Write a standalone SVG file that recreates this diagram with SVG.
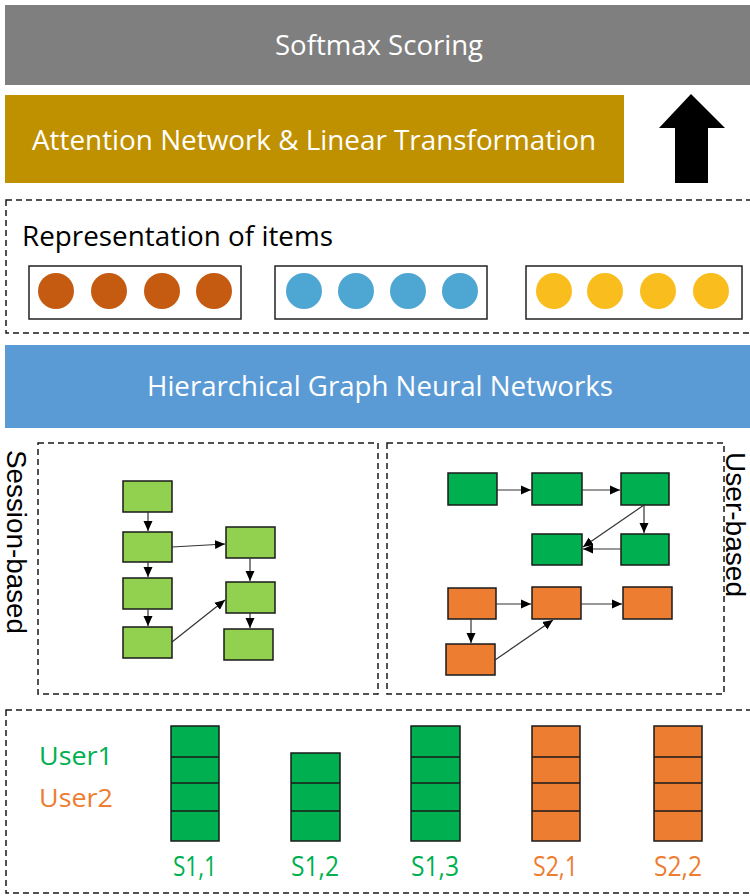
<svg xmlns="http://www.w3.org/2000/svg" width="750" height="896" viewBox="0 0 750 896">
<style>
.dash{fill:none;stroke:#1a1a1a;stroke-width:1.5;stroke-dasharray:6 4}
.wt{fill:#fff;font-family:"Open Sans","Liberation Sans",sans-serif;font-size:28px}
.box{fill:none;stroke:#222;stroke-width:1.5}
.lg{fill:#92D050;stroke:#1a1a1a;stroke-width:1.5}
.dg{fill:#00B050;stroke:#1a1a1a;stroke-width:1.5}
.or{fill:#ED7D31;stroke:#1a1a1a;stroke-width:1.5}
.edge{stroke:#333;stroke-width:1.2;fill:none;marker-end:url(#ah)}
.lab{font-family:"Open Sans","Liberation Sans",sans-serif;font-size:26px}
.sl{font-family:"Open Sans","Liberation Sans",sans-serif;font-size:28px}
.rot{font-family:"Liberation Sans",sans-serif;font-size:28px;fill:#000}
</style>
<defs>
<marker id="ah" markerWidth="10" markerHeight="10" refX="10" refY="5" orient="auto" markerUnits="userSpaceOnUse">
<path d="M0,0.5 L10,5 L0,9.5 Z" fill="#000"/>
</marker>
</defs>
<rect width="750" height="896" fill="#fff"/>

<g id="softmax">
<rect x="5" y="5" width="750" height="80" fill="#7F7F7F"/>
<text class="wt" x="379" y="55" text-anchor="middle" textLength="208" lengthAdjust="spacingAndGlyphs">Softmax Scoring</text>
</g>
<g id="attention">
<rect x="5" y="95" width="619" height="88" fill="#BF9000"/>
<text class="wt" x="32" y="150" font-size="30" textLength="564" lengthAdjust="spacingAndGlyphs">Attention Network &amp; Linear Transformation</text>
</g>
<g id="up-arrow">
<polygon points="691,94 725,128 708,128 708,183 675,183 675,128 659,128" fill="#000"/>
</g>

<g id="representation">
<rect class="dash" x="6" y="200" width="750" height="133"/>
<text x="22" y="246" font-family="Open Sans, Liberation Sans, sans-serif" font-size="27" fill="#000" textLength="311" lengthAdjust="spacingAndGlyphs">Representation of items</text>
<g id="items-1">
<rect class="box" x="29" y="266" width="212" height="53"/>
<g fill="#C55A11"><circle cx="56" cy="291" r="18"/><circle cx="109" cy="291" r="18"/><circle cx="162" cy="291" r="18"/><circle cx="214" cy="291" r="18"/></g>
</g>
<g id="items-2">
<rect class="box" x="275" y="266" width="212" height="53"/>
<g fill="#4EA6D2"><circle cx="304" cy="291" r="18"/><circle cx="356" cy="291" r="18"/><circle cx="408" cy="291" r="18"/><circle cx="460" cy="291" r="18"/></g>
</g>
<g id="items-3">
<rect class="box" x="526" y="266" width="216" height="53"/>
<g fill="#F9BE1E"><circle cx="554" cy="291" r="18"/><circle cx="605" cy="291" r="18"/><circle cx="658" cy="291" r="18"/><circle cx="711" cy="291" r="18"/></g>
</g>
</g>

<g id="hgnn">
<rect x="5" y="345" width="750" height="83" fill="#5B9BD5"/>
<text class="wt" x="380" y="396" text-anchor="middle" textLength="466" lengthAdjust="spacingAndGlyphs">Hierarchical Graph Neural Networks</text>
</g>

<g id="session-based">
<rect class="dash" x="38" y="443" width="340" height="251"/>
<text class="rot" transform="translate(7,450) rotate(90)" textLength="184" lengthAdjust="spacingAndGlyphs">Session-based</text>
<g id="s-n1"><rect class="lg" x="123" y="481" width="49" height="31"/></g>
<g id="s-n2"><rect class="lg" x="123" y="532" width="49" height="30"/></g>
<g id="s-n3"><rect class="lg" x="123" y="578" width="49" height="31"/></g>
<g id="s-n4"><rect class="lg" x="123" y="627" width="49" height="31"/></g>
<g id="s-r1"><rect class="lg" x="226" y="527" width="49" height="31"/></g>
<g id="s-r2"><rect class="lg" x="226" y="582" width="49" height="31"/></g>
<g id="s-r3"><rect class="lg" x="224" y="629" width="49" height="31"/></g>
</g>

<g id="user-based">
<rect class="dash" x="387" y="443" width="337" height="251"/>
<text class="rot" transform="translate(726,452) rotate(90)" font-size="26" textLength="145" lengthAdjust="spacingAndGlyphs">User-based</text>
<g id="u-g1"><rect class="dg" x="448" y="473" width="49" height="32"/></g>
<g id="u-g2"><rect class="dg" x="532" y="473" width="50" height="32"/></g>
<g id="u-g3"><rect class="dg" x="621" y="473" width="48" height="32"/></g>
<g id="u-g4"><rect class="dg" x="532" y="534" width="50" height="31"/></g>
<g id="u-g5"><rect class="dg" x="621" y="534" width="48" height="31"/></g>
<g id="u-o1"><rect class="or" x="448" y="588" width="48" height="31"/></g>
<g id="u-o2"><rect class="or" x="532" y="587" width="49" height="32"/></g>
<g id="u-o3"><rect class="or" x="623" y="587" width="49" height="32"/></g>
<g id="u-o4"><rect class="or" x="446" y="644" width="49" height="31"/></g>
</g>

<g id="connectors">
<line class="edge" x1="148" y1="512" x2="148" y2="531"/>
<line class="edge" x1="148" y1="562" x2="148" y2="577"/>
<line class="edge" x1="148" y1="609" x2="148" y2="626"/>
<line class="edge" x1="172" y1="547" x2="225" y2="544"/>
<line class="edge" x1="250" y1="558" x2="250" y2="581"/>
<line class="edge" x1="250" y1="613" x2="250" y2="628"/>
<line class="edge" x1="172" y1="642" x2="225" y2="600"/>
<line class="edge" x1="497" y1="490" x2="531" y2="490"/>
<line class="edge" x1="582" y1="490" x2="620" y2="490"/>
<line class="edge" x1="644" y1="505" x2="644" y2="533"/>
<line class="edge" x1="644" y1="505" x2="583" y2="547"/>
<line class="edge" x1="621" y1="549" x2="583" y2="549"/>
<line class="edge" x1="496" y1="604" x2="531" y2="604"/>
<line class="edge" x1="581" y1="604" x2="622" y2="604"/>
<line class="edge" x1="471" y1="619" x2="471" y2="643"/>
<line class="edge" x1="495" y1="660" x2="553" y2="620"/>
</g>

<g id="sessions">
<rect class="dash" x="6" y="710" width="750" height="183"/>
<text class="lab" x="39" y="765" fill="#00B050" textLength="74" lengthAdjust="spacingAndGlyphs">User1</text>
<text class="lab" x="39" y="807" fill="#ED7D31" textLength="74" lengthAdjust="spacingAndGlyphs">User2</text>
<g id="s11">
<rect class="dg" x="171" y="726" width="48" height="115"/>
<path d="M171,757H219M171,783H219M171,811H219" stroke="#1a1a1a" stroke-width="1.5"/>
<text class="sl" x="173" y="876" fill="#00B050" textLength="44" lengthAdjust="spacingAndGlyphs">S1,1</text>
</g>
<g id="s12">
<rect class="dg" x="291" y="753" width="49" height="88"/>
<path d="M291,783H340M291,811H340" stroke="#1a1a1a" stroke-width="1.5"/>
<text class="sl" x="291" y="876" fill="#00B050" textLength="48" lengthAdjust="spacingAndGlyphs">S1,2</text>
</g>
<g id="s13">
<rect class="dg" x="411" y="726" width="49" height="115"/>
<path d="M411,757H460M411,783H460M411,811H460" stroke="#1a1a1a" stroke-width="1.5"/>
<text class="sl" x="411" y="876" fill="#00B050" textLength="48" lengthAdjust="spacingAndGlyphs">S1,3</text>
</g>
<g id="s21">
<rect class="or" x="532" y="726" width="48" height="115"/>
<path d="M532,757H580M532,783H580M532,811H580" stroke="#1a1a1a" stroke-width="1.5"/>
<text class="sl" x="533" y="876" fill="#ED7D31" textLength="45" lengthAdjust="spacingAndGlyphs">S2,1</text>
</g>
<g id="s22">
<rect class="or" x="654" y="726" width="48" height="115"/>
<path d="M654,757H702M654,783H702M654,811H702" stroke="#1a1a1a" stroke-width="1.5"/>
<text class="sl" x="654" y="876" fill="#ED7D31" textLength="48" lengthAdjust="spacingAndGlyphs">S2,2</text>
</g>
</g>
</svg>
